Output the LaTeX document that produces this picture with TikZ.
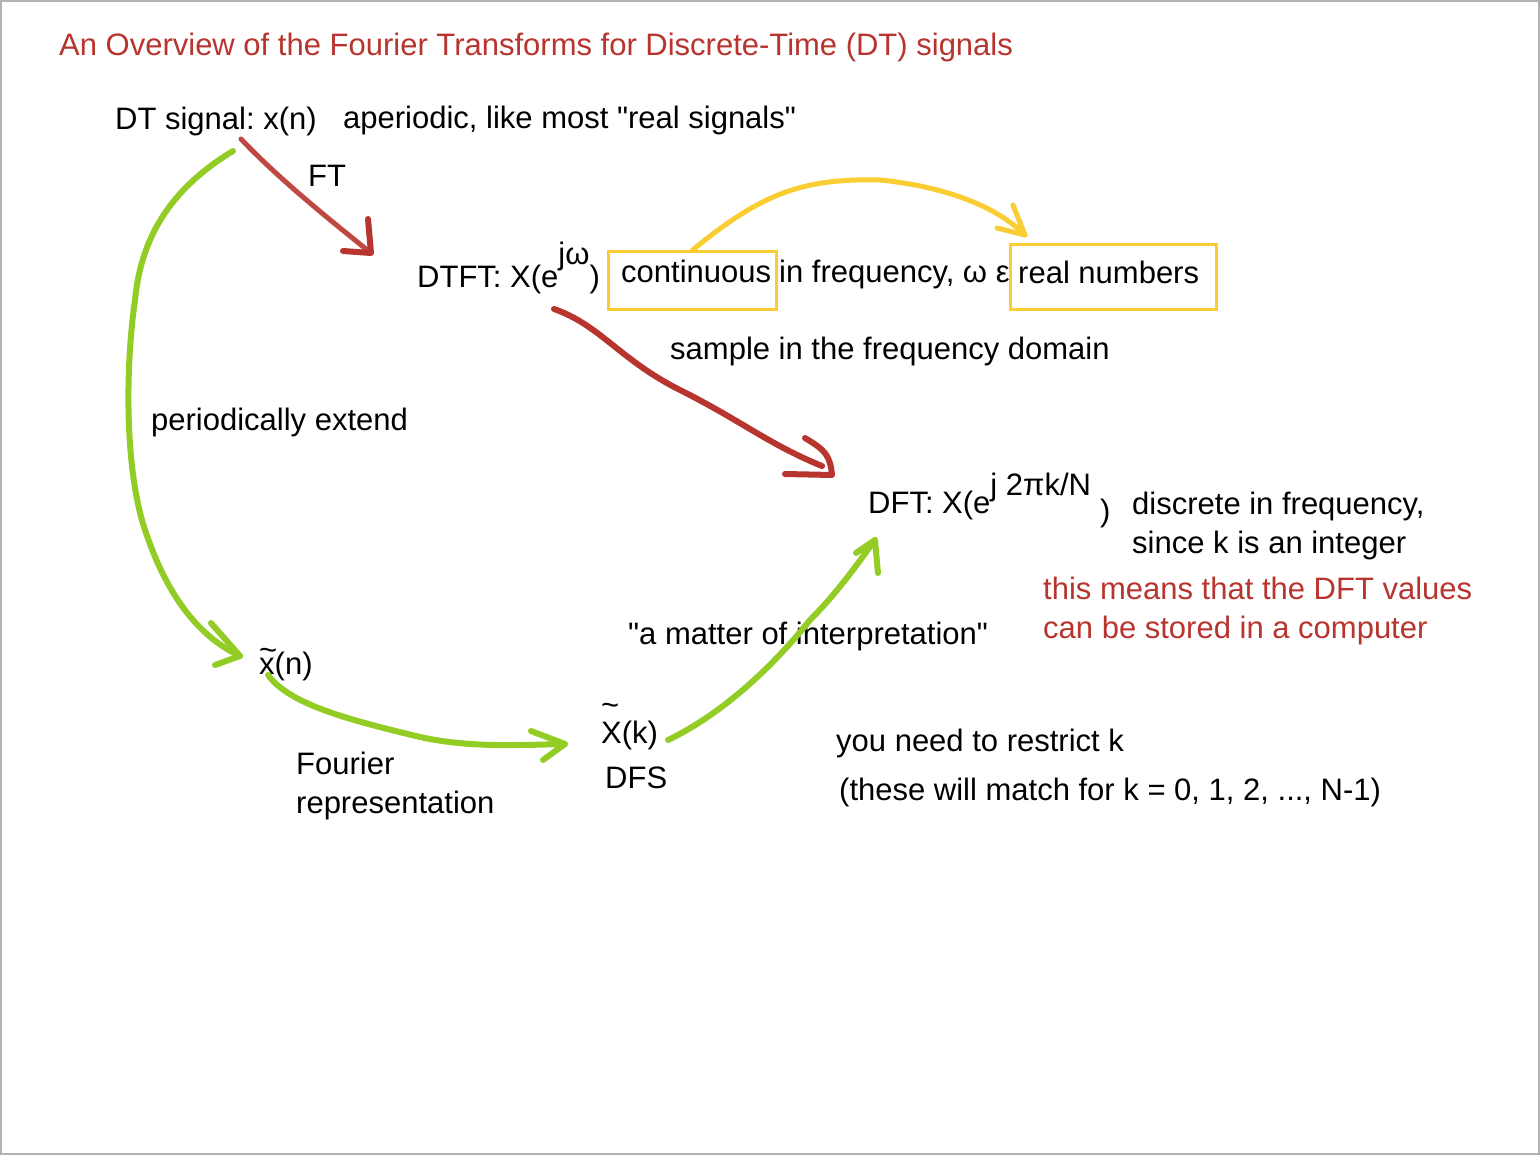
\documentclass[tikz,border=0pt]{standalone}
\usepackage{fontspec}
\setmainfont{Liberation Sans}[Ligatures = TeXOff]
\frenchspacing
\definecolor{ovred}{RGB}{184,52,46}
\definecolor{ovgreen}{RGB}{146,204,36}
\definecolor{ovyellow}{RGB}{250,206,50}
\tikzset{
	lbl/.style = {anchor = base west, inner sep = 0pt, font = \fontsize{31}{39}\selectfont, align = left},
	redlbl/.style = {lbl, text = ovred},
	stroke/.style = {line width = 6pt, line cap = round, line join = round},
	ybox/.style = {draw = ovyellow, line width = 3pt, inner sep = 0pt, anchor = north west},
}
\begin{document}
\begin{tikzpicture}[x = 1pt, y = -1pt]
		\draw[fill = white, draw = black!30, line width = 2pt] (1, 1) rectangle (1539, 1154);
		\useasboundingbox (0, 0) rectangle (1540, 1155);
		% texts (two-line nodes sit on their last line)
		\node[redlbl] (title) at (59, 56) {An Overview of the Fourier Transforms for Discrete-Time (DT) signals};
		\node[lbl] (sig) at (115, 130) {DT signal: x(n)};
		\node[lbl] (aper) at (343, 129) {aperiodic, like most "real signals"};
		\node[lbl] (ft) at (308, 187) {FT};
		\node[lbl] (dtft) at (417, 288) {DTFT: X(e\raisebox{23pt}{jω})};
		\node[lbl] (cont) at (621, 283) {continuous};
		\node[lbl] (infreq) at (779, 283) {in frequency, ω ε};
		\node[lbl] (real) at (1018, 284) {real numbers};
		\node[lbl] (sample) at (670, 360) {sample in the frequency domain};
		\node[lbl] (ext) at (151, 431) {periodically extend};
		\node[lbl] (dft) at (868, 513) {DFT: X(e\raisebox{18pt}{j 2πk/N}\hspace{9pt}\raisebox{-8pt}{)}};
		\node[lbl] (disc) at (1132, 553) {discrete in frequency,\\since k is an integer};
		\node[redlbl] (means) at (1043, 638) {this means that the DFT values\\can be stored in a computer};
		\node[lbl] (interp) at (628, 644) {"a matter of interpretation"};
		\node[lbl] (xper) at (259, 674) {\rlap{\raisebox{14pt}{\textasciitilde}}x(n)};
		\node[lbl] (Xdfs) at (601, 743) {\rlap{\raisebox{28pt}{\textasciitilde}}X(k)};
		\node[lbl] (dfs) at (605, 788) {DFS};
		\node[lbl] (four) at (296, 813) {Fourier\\representation};
		\node[lbl] (restr) at (836, 751) {you need to restrict k};
		\node[lbl] (match) at (839, 800) {(these will match for k = 0, 1, 2, ..., N-1)};
		% yellow boxes
		\node[ybox, minimum width = 168pt, minimum height = 58pt] (contbox) at (607, 250) {};
		\node[ybox, minimum width = 206pt, minimum height = 65pt] (realbox) at (1009, 243) {};
		% arrow ends
		\coordinate (ftA) at (241, 139);
		\coordinate (ftB) at (371, 253);
		\coordinate (smA) at (554, 309);
		\coordinate (smB) at (822, 466);
		\coordinate (ylB) at (1025, 235);
		\coordinate (exA) at (233, 151);
		\coordinate (exB) at (240, 656);
		\coordinate (frA) at (268, 675);
		\coordinate (frB) at (565, 744);
		\coordinate (dsA) at (668, 740);
		\coordinate (dsB) at (875, 540);
		% red arrows
		\draw[stroke, ovred!90, line width = 5pt] (ftA) .. controls (280, 180) and (330, 220) .. (ftB);
			\draw[stroke, ovred] (368, 219) -- (ftB) -- (343, 251);
		\draw[stroke, ovred] (smA) .. controls (600, 325) and (620, 360) .. (680, 390) .. controls (740, 420) and (770, 445) .. (smB);
			\draw[stroke, ovred] (805, 438) .. controls (825, 450) and (830, 455) .. (832, 475) -- (785, 474);
		% yellow arrow
		\draw[stroke, ovyellow, line width = 5pt] (contbox.north) .. controls (760, 195) and (800, 178) .. (880, 180) .. controls (930, 185) and (990, 200) .. (ylB);
			\draw[stroke, ovyellow, line width = 5pt] (1013, 205) -- (ylB) -- (997, 228);
		% green arrows
		\draw[stroke, ovgreen] (exA) .. controls (160, 195) and (140, 250) .. (135, 300) .. controls (125, 370) and (125, 470) .. (145, 530) .. controls (165, 590) and (195, 635) .. (exB);
			\draw[stroke, ovgreen] (211, 623) -- (exB) -- (215, 665);
		\draw[stroke, ovgreen] (frA) .. controls (290, 705) and (350, 720) .. (420, 737) .. controls (470, 748) and (520, 745) .. (frB);
			\draw[stroke, ovgreen] (531, 731) -- (frB) -- (543, 760);
		\draw[stroke, ovgreen] (dsA) .. controls (720, 715) and (770, 670) .. (810, 620) .. controls (840, 590) and (860, 560) .. (dsB);
			\draw[stroke, ovgreen] (856, 553) -- (dsB) -- (878, 573);
	\end{tikzpicture}
\end{document}
